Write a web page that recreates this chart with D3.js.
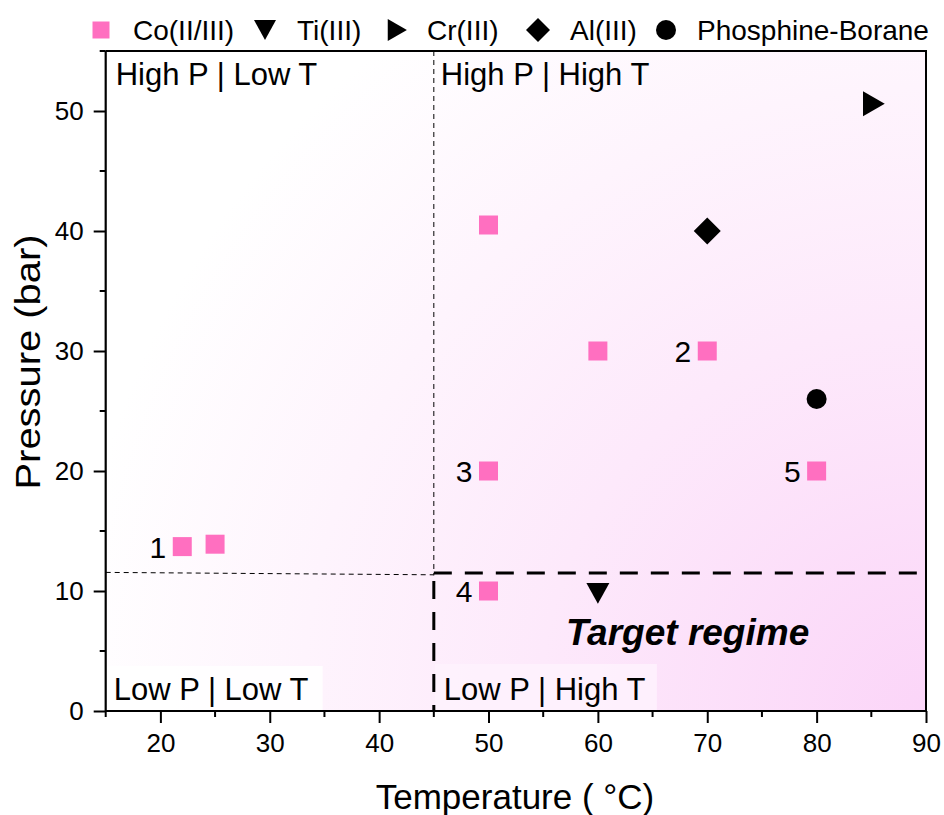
<!DOCTYPE html>
<html>
<head>
<meta charset="utf-8">
<script src="https://cdn.jsdelivr.net/npm/d3@7"></script>
<style>
  html, body { margin: 0; padding: 0; background: #fff; }
  svg { display: block; font-family: "Liberation Sans", Arial, sans-serif; }
</style>
</head>
<body>
<svg id="chart" width="944" height="815"></svg>
<script>
// ---- data ----
const coTemp = [22, 25, 50, 60, 70, 50, 80, 50];
const coPres = [13.7, 13.9, 40.5, 30, 30, 20, 20, 10];
const tiTemp = [60];
const tiPres = [9.8];
const crTemp = [85.2];
const crPres = [50.6];
const alTemp = [70];
const alPres = [40];
const pbTemp = [80];
const pbPres = [26];

const entryLabels = ["1", "2", "3", "4", "5"];
const entryTemp = [22, 70, 50, 50, 80];
const entryPres = [13.7, 30, 20, 10, 20];

const legendNames = ["Co(II/III)", "Ti(III)", "Cr(III)", "Al(III)", "Phosphine-Borane"];
const xTicks = [20, 30, 40, 50, 60, 70, 80, 90];
const yTicks = [0, 10, 20, 30, 40, 50];

const boundaryTemp = 45;
const boundaryPres = 11.5;
const leftGuidePres = [11.55, 11.35];

// ---- layout ----
const svg = d3.select("#chart");
const plotL = 105.7, plotR = 926, plotT = 51, plotB = 711;
const x = d3.scaleLinear().domain([15, 90]).range([plotL, plotR]);
const y = d3.scaleLinear().domain([0, 55]).range([plotB, plotT]);
const pink = "#ff6fc0";

// background gradient, strongest toward high T / low P
const defs = svg.append("defs");
const grad = defs.append("radialGradient")
  .attr("id", "bg").attr("gradientUnits", "userSpaceOnUse")
  .attr("cx", plotR).attr("cy", plotB).attr("r", 860);
grad.append("stop").attr("offset", "0%").attr("stop-color", "#fbd5f8");
grad.append("stop").attr("offset", "45%").attr("stop-color", "#fde9fb");
grad.append("stop").attr("offset", "100%").attr("stop-color", "#ffffff");

svg.append("rect").attr("x", plotL).attr("y", plotT)
  .attr("width", plotR - plotL).attr("height", plotB - plotT)
  .attr("fill", "url(#bg)");

// region labels and their boxes
const regionLabels = [
  { text: "High P | Low T", t: 15, p: 55, dx: 10, dy: 34 },
  { text: "High P | High T", t: 45, p: 55, dx: 7, dy: 34 },
  { text: "Low P | Low T", t: 15, p: 0, dx: 8, dy: -11, boxW: 216, boxH: 45, boxFill: "#ffffff" },
  { text: "Low P | High T", t: 45, p: 0, dx: 10, dy: -11, boxW: 222, boxH: 47, boxFill: "#fef2fd" }
];
regionLabels.forEach(r => {
  if (r.boxW) {
    svg.append("rect")
      .attr("x", x(r.t) + 1).attr("y", y(r.p) - r.boxH)
      .attr("width", r.boxW).attr("height", r.boxH)
      .attr("fill", r.boxFill).attr("opacity", 0.85);
  }
});

// regime boundaries
const line = d3.line().x(d => x(d[0])).y(d => y(d[1]));
svg.append("path")
  .attr("d", line([[15, leftGuidePres[0]], [boundaryTemp, leftGuidePres[1]]]))
  .attr("stroke", "#000").attr("stroke-width", 1).attr("stroke-dasharray", "5,4").attr("fill", "none");
svg.append("path")
  .attr("d", line([[boundaryTemp, 55], [boundaryTemp, boundaryPres - 0.2]]))
  .attr("stroke", "#000").attr("stroke-width", 1).attr("stroke-dasharray", "5,4").attr("fill", "none");
svg.append("path")
  .attr("d", line([[boundaryTemp, boundaryPres], [90, boundaryPres]]))
  .attr("stroke", "#000").attr("stroke-width", 3).attr("stroke-dasharray", "18,13").attr("fill", "none");
svg.append("path")
  .attr("d", line([[boundaryTemp, boundaryPres], [boundaryTemp, 0]]))
  .attr("stroke", "#000").attr("stroke-width", 3).attr("stroke-dasharray", "18,13")
  .attr("stroke-dashoffset", -8).attr("fill", "none");

regionLabels.forEach(r => {
  svg.append("text")
    .attr("x", x(r.t) + r.dx).attr("y", y(r.p) + r.dy)
    .attr("font-size", 31).attr("fill", "#000").text(r.text);
});

svg.append("text")
  .attr("x", x(68.2)).attr("y", y(5.5))
  .attr("text-anchor", "middle").attr("font-size", 37)
  .attr("font-weight", "bold").attr("font-style", "italic")
  .text("Target regime");

// ---- marker shapes ----
const shapes = {
  square: s => `M${-s/2},${-s/2}h${s}v${s}h${-s}Z`,
  down: s => `M${-s/2},${-s*0.45}L${s/2},${-s*0.45}L0,${s*0.45}Z`,
  rightTri: s => `M${-s*0.42},${-s/2}L${s*0.45},0L${-s*0.42},${s/2}Z`,
  diamond: s => `M0,${-s/2}L${s/2},0L0,${s/2}L${-s/2},0Z`,
  circle: s => `M${s/2},0A${s/2},${s/2} 0 1 1 ${-s/2},0A${s/2},${s/2} 0 1 1 ${s/2},0Z`
};

function plotSeries(temps, pres, shape, size, color) {
  svg.append("g").selectAll("path")
    .data(temps.map((t, i) => [t, pres[i]]))
    .join("path")
    .attr("transform", d => `translate(${x(d[0])},${y(d[1])})`)
    .attr("d", shapes[shape](size))
    .attr("fill", color);
}
plotSeries(coTemp, coPres, "square", 19, pink);
plotSeries(tiTemp, tiPres, "down", 23, "#000");
plotSeries(crTemp, crPres, "rightTri", 25, "#000");
plotSeries(alTemp, alPres, "diamond", 27, "#000");
plotSeries(pbTemp, pbPres, "circle", 20, "#000");

// entry numbers
svg.append("g").selectAll("text")
  .data(entryLabels.map((l, i) => ({ l, t: entryTemp[i], p: entryPres[i] })))
  .join("text")
  .attr("x", d => x(d.t) - 16).attr("y", d => y(d.p) + 11)
  .attr("text-anchor", "end").attr("font-size", 30).text(d => d.l);

// ---- axes ----
const xMinor = d3.range(15, 91, 5).filter(v => !xTicks.includes(v));
const yMinor = d3.range(5, 56, 10);

const xAxis = svg.append("g").attr("transform", `translate(0,${plotB})`);
xAxis.call(d3.axisBottom(x).tickValues(xTicks).tickSize(12).tickPadding(11).tickFormat(d3.format("d")));
xAxis.append("g").selectAll("line").data(xMinor).join("line")
  .attr("x1", d => x(d)).attr("x2", d => x(d)).attr("y1", 0).attr("y2", 6)
  .attr("stroke", "#000").attr("stroke-width", 2);

const yAxis = svg.append("g").attr("transform", `translate(${plotL},0)`);
yAxis.call(d3.axisLeft(y).tickValues(yTicks).tickSize(12).tickPadding(10).tickFormat(d3.format("d")));
yAxis.append("g").selectAll("line").data(yMinor).join("line")
  .attr("y1", d => y(d)).attr("y2", d => y(d)).attr("x1", 0).attr("x2", -6)
  .attr("stroke", "#000").attr("stroke-width", 2);

[xAxis, yAxis].forEach(a => {
  a.selectAll(".domain").attr("stroke-width", 2.2);
  a.selectAll(".tick line").attr("stroke-width", 2);
  a.selectAll("text").attr("font-size", 26).attr("font-family", "Liberation Sans, Arial, sans-serif").attr("fill", "#000");
});
xAxis.select(".domain").attr("d", `M${plotL},0H${plotR}`);
yAxis.select(".domain").attr("d", `M0,${plotB}V${plotT}`);

// top and right frame
svg.append("path")
  .attr("d", `M${plotL},${plotT}H${plotR}V${plotB}`)
  .attr("stroke", "#000").attr("stroke-width", 2).attr("fill", "none");

// axis titles
svg.append("text")
  .attr("x", 515).attr("y", 809)
  .attr("text-anchor", "middle").attr("font-size", 35)
  .text("Temperature ( °C)");
svg.append("text")
  .attr("transform", `translate(40,362) rotate(-90)`)
  .attr("text-anchor", "middle").attr("font-size", 35)
  .attr("textLength", 255).attr("lengthAdjust", "spacingAndGlyphs")
  .text("Pressure (bar)");

// ---- legend ----
const legendShapes = [
  { shape: "square", size: 17, color: pink, mx: 101, tx: 133 },
  { shape: "down", size: 22, color: "#000", mx: 265, tx: 297 },
  { shape: "rightTri", size: 22, color: "#000", mx: 397, tx: 427 },
  { shape: "diamond", size: 24, color: "#000", mx: 538, tx: 570 },
  { shape: "circle", size: 20, color: "#000", mx: 666, tx: 697 }
];
const lg = svg.append("g");
legendShapes.forEach((s, i) => {
  lg.append("path").attr("transform", `translate(${s.mx},30)`)
    .attr("d", shapes[s.shape](s.size)).attr("fill", s.color);
  lg.append("text").attr("x", s.tx).attr("y", 40)
    .attr("font-size", 28).text(legendNames[i]);
});
</script>
</body>
</html>
